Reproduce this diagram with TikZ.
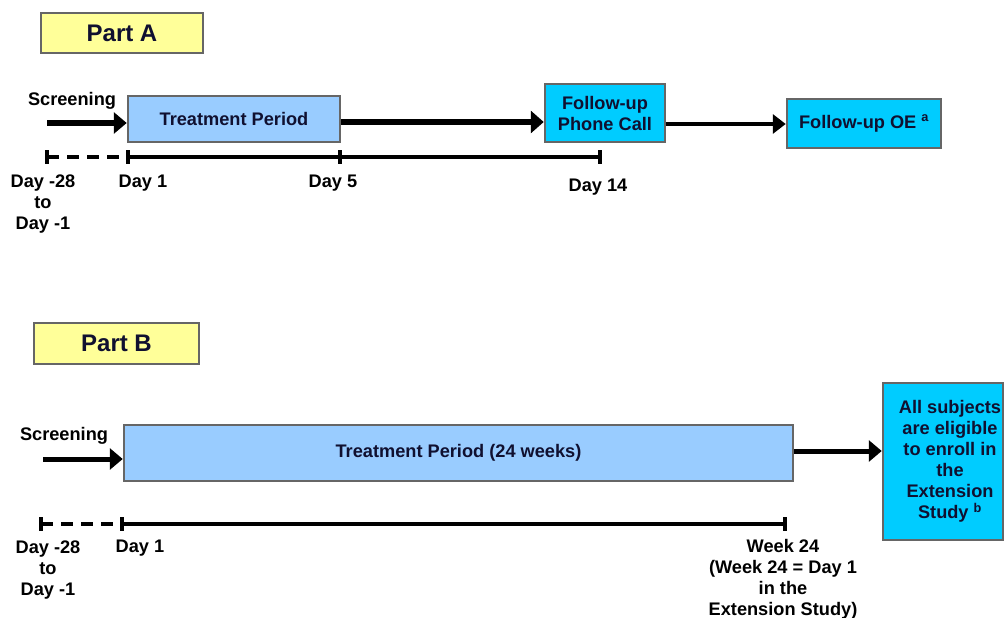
\documentclass[tikz,border=0pt]{standalone}
\usepackage{fontspec}
\setmainfont{Liberation Sans}
\usetikzlibrary{arrows.meta}
\definecolor{partyellow}{HTML}{FFFF99}
\definecolor{tpblue}{HTML}{99CCFF}
\definecolor{cyanbox}{HTML}{00CCFF}
\definecolor{boxedge}{HTML}{666666}
\definecolor{boxtext}{HTML}{101030}
\begin{document}
\begin{tikzpicture}[x=1pt,y=-1pt,
  txt/.style={font=\fontsize{18.2}{21}\selectfont\bfseries, text=black, inner sep=0pt, align=center},
  boxbase/.style={draw=boxedge, line width=2.5pt, inner sep=0pt, align=center,
     font=\fontsize{18.2}{21}\selectfont\bfseries, text=boxtext},
  partbox/.style={boxbase, fill=partyellow, font=\fontsize{24}{28}\selectfont\bfseries},
  tpbox/.style={boxbase, fill=tpblue},
  cybox/.style={boxbase, fill=cyanbox},
  arr/.style={line width=5pt, -{Triangle[length=13pt,width=21pt]}},
  arrbig/.style={line width=6pt, -{Triangle[length=13pt,width=22pt]}},
  arrthin/.style={line width=3.5pt, -{Triangle[length=13pt,width=19pt]}},
  tline/.style={line width=4pt},
  dline/.style={line width=4pt, dash pattern=on 12pt off 8pt},
  tick/.style={line width=3.5pt}
]
\useasboundingbox (0,0) rectangle (1005,618);

% ---------------- Part A ----------------
\node[partbox, minimum width=162pt, minimum height=40pt] (partA) at (122,33) {Part A};
\node[txt] (scrA) at (72,101) {Screening};
\node[tpbox, minimum width=212pt, minimum height=46pt] (tpA) at (234,119) {Treatment Period};
\node[cybox, minimum width=120pt, minimum height=58pt] (phone) at (605,113) {Follow-up\\Phone Call};
\node[cybox, minimum width=154pt, minimum height=49pt] (oe) at (864,123.5) {Follow-up OE \textsuperscript{a}};

\coordinate (sA) at (47,123);
\coordinate (aA) at (0,122);
\coordinate (bA) at (0,124);
\draw[arr] (sA) -- (sA -| tpA.west);
\draw[arrbig] (tpA.east |- aA) -- (phone.west |- aA);
\draw[arrthin] (phone.east |- bA) -- (oe.west |- bA);

\coordinate (ta1) at (47,157);
\coordinate (ta2) at (128,157);
\coordinate (ta3) at (340,157);
\coordinate (ta4) at (600,157);
\draw[dline] (ta1) -- (ta2);
\draw[tline] (ta2) -- (ta4);
\foreach \t in {ta1,ta2,ta3,ta4} \draw[tick] (\t) ++(0,-7) -- ++(0,14);

\node[txt] (dA0) at (43,204) {Day -28\\to\\Day -1};
\node[txt] (dA1) at (143,183) {Day 1};
\node[txt] (dA5) at (333,183) {Day 5};
\node[txt] (dA14) at (598,187) {Day 14};

% ---------------- Part B ----------------
\node[partbox, minimum width=165pt, minimum height=41pt] (partB) at (116.5,343.5) {Part B};
\node[txt] (scrB) at (64,436) {Screening};
\node[tpbox, minimum width=669pt, minimum height=56pt] (tpB) at (458.5,453) {Treatment Period (24 weeks)};
\node[cybox, minimum width=120pt, minimum height=157pt] (ext) at (943,461.5) {};
\node[txt, text=boxtext] (extt) at (950,461.5) {All subjects\\are eligible\\to enroll in\\the\\Extension\\Study \textsuperscript{b}};

\coordinate (sB) at (43,459);
\coordinate (aB) at (0,451);
\draw[arr] (sB) -- (sB -| tpB.west);
\draw[arr] (tpB.east |- aB) -- (ext.west |- aB);

\coordinate (tb1) at (41,524);
\coordinate (tb2) at (122,524);
\coordinate (tb3) at (785,524);
\draw[dline] (tb1) -- (tb2);
\draw[tline] (tb2) -- (tb3);
\foreach \t in {tb1,tb2,tb3} \draw[tick] (\t) ++(0,-7) -- ++(0,14);

\node[txt] (dB0) at (48,570) {Day -28\\to\\Day -1};
\node[txt] (dB1) at (140,548) {Day 1};
\node[txt] (dB24) at (783,579) {Week 24\\(Week 24 = Day 1\\in the\\Extension Study)};
\end{tikzpicture}
\end{document}
